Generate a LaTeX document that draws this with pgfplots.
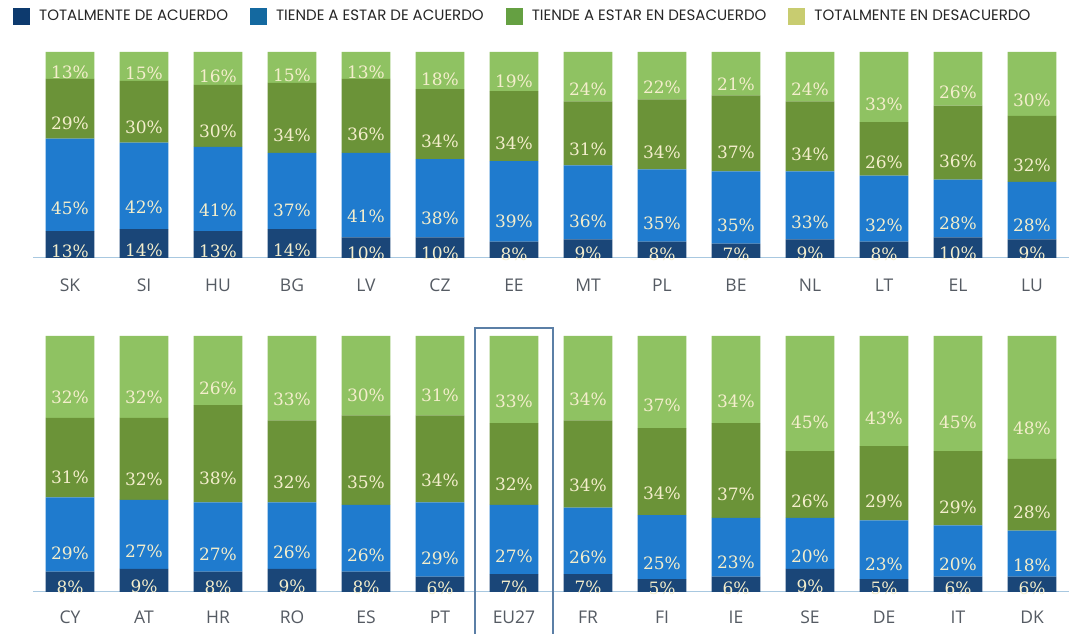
\documentclass[border=0pt]{standalone}
\usepackage{pgfplots}
\pgfplotsset{compat=1.18}
\usepackage{pgfplotstable}
\usepackage{fontspec}
\setmainfont{Open Sans}
\newfontfamily\legfont{Poppins}
\newfontfamily\labfont{DejaVu Serif}

% bar colours
\definecolor{cnavy}{HTML}{1A4678}
\definecolor{cblue}{HTML}{1F7BCE}
\definecolor{cgreen}{HTML}{6B9338}
\definecolor{clight}{HTML}{8FC262}
% legend colours
\definecolor{lnavy}{HTML}{0D3A6E}
\definecolor{lblue}{HTML}{1469A0}
\definecolor{lgreen}{HTML}{65A042}
\definecolor{llight}{HTML}{C8CC70}
\definecolor{labcol}{HTML}{F4EECC}
\definecolor{tickcol}{HTML}{555B63}
\definecolor{basecol}{HTML}{A8C8E0}
\definecolor{boxcol}{HTML}{5B7FA6}

% totalmente de acuerdo (a), tiende a estar de acuerdo (b),
% tiende a estar en desacuerdo (c), totalmente en desacuerdo (d);
% e = drawn height of the top segment, so that every bar fills 100
\pgfplotstableread{
x lab a b c d e
0 SK 13 45 29 13 13
1 SI 14 42 30 15 14
2 HU 13 41 30 16 16
3 BG 14 37 34 15 15
4 LV 10 41 36 13 13
5 CZ 10 38 34 18 18
6 EE 8 39 34 19 19
7 MT 9 36 31 24 24
8 PL 8 35 34 22 23
9 BE 7 35 37 21 21
10 NL 9 33 34 24 24
11 LT 8 32 26 33 34
12 EL 10 28 36 26 26
13 LU 9 28 32 30 31
}\toprow

\pgfplotstableread{
x lab a b c d e
0 CY 8 29 31 32 32
1 AT 9 27 32 32 32
2 HR 8 27 38 26 27
3 RO 9 26 32 33 33
4 ES 8 26 35 30 31
5 PT 6 29 34 31 31
6 EU27 7 27 32 33 34
7 FR 7 26 34 34 33
8 FI 5 25 34 37 36
9 IE 6 23 37 34 34
10 SE 9 20 26 45 45
11 DE 5 23 29 43 43
12 IT 6 20 29 45 45
13 DK 6 18 28 48 48
}\botrow

\pgfplotsset{
  rowstyle/.style={
    scale only axis, width=1036pt,
    ybar stacked, bar width=0.66,
    xmin=-0.5, xmax=13.5, ymin=0, ymax=100,
    enlargelimits=false,
    axis x line*=bottom, axis y line=none,
    x axis line style={draw=basecol, line width=1pt},
    ytick=\empty, xtick=data,
    major tick length=0pt,
    xticklabel style={font=\fontsize{17.5}{20}\selectfont, text=tickcol, anchor=center},
    point meta=explicit,
    nodes near coords={\pgfmathprintnumber{\pgfplotspointmeta}\%},
    visualization depends on={rawy \as \rawy},
    every axis plot/.append style={draw=none, forget plot},
    clip=false,
  },
}

\begin{document}
\begin{tikzpicture}
\path[fill=white, use as bounding box] (0pt,0pt) rectangle (1081pt,634pt);

% upper row
\begin{axis}[rowstyle, at={(33pt,376pt)}, anchor=south west, height=206pt,
    xticklabels from table={\toprow}{lab},
    xticklabel style={yshift=-27pt},
    every node near coord/.append style={font=\labfont\fontsize{17}{20}\selectfont,
      /pgf/number format/assume math mode=true,
      text=labcol, anchor=center, yshift={-0.515pt*\rawy}},
    legend columns=4,
    legend image code/.code={\fill[#1] (0pt,-8.5pt) rectangle (17pt,8.5pt);},
    legend style={draw=none, fill=none, at={(0,1)}, anchor=south west,
      xshift=-23pt, yshift=25pt, font=\legfont\fontsize{15}{16}\selectfont,
      text=black!85, /tikz/every odd column/.append style={column sep=7pt},
      /tikz/every even column/.append style={column sep=20pt}},
  ]
  \addplot[fill=cnavy] table[x=x, y=a, meta=a]{\toprow};
  \addplot[fill=cblue] table[x=x, y=b, meta=b]{\toprow};
  \addplot[fill=cgreen] table[x=x, y=c, meta=c]{\toprow};
  \addplot[fill=clight] table[x=x, y=e, meta=d]{\toprow};
  \addlegendimage{fill=lnavy, draw=none}
  \addlegendentry{TOTALMENTE DE ACUERDO}
  \addlegendimage{fill=lblue, draw=none}
  \addlegendentry{TIENDE A ESTAR DE ACUERDO}
  \addlegendimage{fill=lgreen, draw=none}
  \addlegendentry{TIENDE A ESTAR EN DESACUERDO}
  \addlegendimage{fill=llight, draw=none}
  \addlegendentry{TOTALMENTE EN DESACUERDO}
\end{axis}

% lower row
\begin{axis}[rowstyle, at={(33pt,42pt)}, anchor=south west, height=256pt,
    xticklabels from table={\botrow}{lab},
    xticklabel style={yshift=-25pt},
    every node near coord/.append style={font=\labfont\fontsize{17}{20}\selectfont,
      /pgf/number format/assume math mode=true,
      text=labcol, anchor=center, yshift={-0.64pt*\rawy}},
  ]
  \addplot[fill=cnavy] table[x=x, y=a, meta=a]{\botrow};
  \addplot[fill=cblue] table[x=x, y=b, meta=b]{\botrow};
  \addplot[fill=cgreen] table[x=x, y=c, meta=c]{\botrow};
  \addplot[fill=clight] table[x=x, y=e, meta=d]{\botrow};
  % frame round the EU27 bar
  \draw[boxcol, line width=1.5pt] (axis cs:5.47,-16.4) -- (axis cs:5.47,103.1)
    -- (axis cs:6.53,103.1) -- (axis cs:6.53,-16.4);
\end{axis}
\end{tikzpicture}
\end{document}
